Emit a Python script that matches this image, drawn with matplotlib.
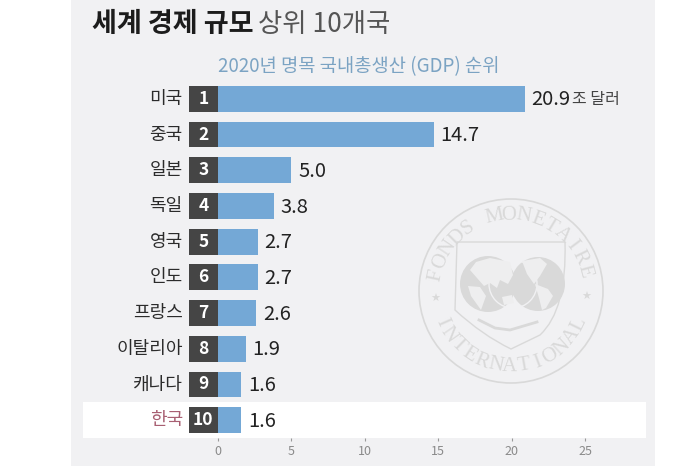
import numpy as np
import matplotlib
matplotlib.use("Agg")
import matplotlib.pyplot as plt
from matplotlib.patches import Rectangle, Circle, Polygon, PathPatch
from matplotlib.path import Path

plt.rcParams['font.family'] = ['Noto Sans CJK KR', 'DejaVu Sans']

countries = ["미국", "중국", "일본", "독일", "영국", "인도", "프랑스", "이탈리아", "캐나다", "한국"]
ranks = [1, 2, 3, 4, 5, 6, 7, 8, 9, 10]
gdp = [20.9, 14.7, 5.0, 3.8, 2.7, 2.7, 2.6, 1.9, 1.6, 1.6]
x_ticks = [0, 5, 10, 15, 20, 25]

W, H = 700, 466
BG = "#f1f1f3"
BAR = "#74a8d6"
BOX = "#454545"
SEAL = "#d9d9d9"
LAND = "#eeeeef"

fig = plt.figure(figsize=(7, 4.66), dpi=100, facecolor="white")

# background layer in pixel coords: panel, white row, IMF seal
bg = fig.add_axes([0, 0, 1, 1], zorder=0)
bg.set_xlim(0, W)
bg.set_ylim(H, 0)
bg.axis("off")
bg.add_patch(Rectangle((71, 0), 584, H, color=BG, lw=0))
bg.add_patch(Rectangle((83, 402), 563, 36, color="white", lw=0))

cx, cy, r = 511, 291, 92
bg.add_patch(Circle((cx, cy), r, fc="none", ec=SEAL, lw=1.2))
shield = Path([(457, 242), (565, 242), (567, 310), (540, 335), (511, 349),
               (482, 335), (455, 310), (457, 242)],
              [Path.MOVETO, Path.LINETO, Path.CURVE3, Path.CURVE3, Path.LINETO,
               Path.CURVE3, Path.CURVE3, Path.CLOSEPOLY])
bg.add_patch(PathPatch(shield, fc="none", ec=SEAL, lw=1))
bg.add_patch(Circle((488, 284), 28, fc=SEAL, ec="none"))
bg.add_patch(Circle((538, 284), 27, fc=SEAL, ec="none"))
bg.add_patch(Circle((513, 284), 24, fc="none", ec=BG, lw=1))
# rough continents
bg.add_patch(Polygon([(470, 270), (476, 262), (490, 258), (510, 262), (513, 275), (508, 284),
                      (500, 280), (497, 288), (490, 283), (484, 286)], fc=LAND, ec="none"))
bg.add_patch(Polygon([(468, 286), (480, 287), (486, 296), (481, 310), (476, 303), (471, 296)],
                     fc=LAND, ec="none"))
bg.add_patch(Polygon([(502, 297), (512, 295), (514, 303), (504, 305)], fc=LAND, ec="none"))
bg.add_patch(Polygon([(522, 261), (540, 258), (547, 264), (540, 276), (534, 284), (527, 274)],
                     fc=LAND, ec="none"))
bg.add_patch(Polygon([(535, 284), (548, 289), (553, 296), (546, 308), (542, 310), (539, 298)],
                     fc=LAND, ec="none"))
bg.plot([479, 495, 510, 537], [320, 328, 330, 322], color=SEAL, lw=2)


def arc_text(s, a0, a1, flip=False):
    for ch, a in zip(s, np.linspace(a0, a1, len(s))):
        t = np.deg2rad(a)
        rot = a + 90 if flip else a - 90
        bg.text(cx + 76 * np.cos(t), cy - 76 * np.sin(t), ch, rotation=rot,
                ha="center", va="center", rotation_mode="anchor",
                family="Liberation Serif", size=15, color=SEAL)


arc_text("FONDS MONETAIRE", 168, 15)
arc_text("INTERNATIONAL", 204, 334, flip=True)
bg.text(435, 299, "★", color=SEAL, size=8, ha="center", va="center", family="DejaVu Sans")
bg.text(586, 297, "★", color=SEAL, size=8, ha="center", va="center", family="DejaVu Sans")

# main chart
ax = fig.add_axes([218 / W, 1 - 438 / H, (585 - 218) / W, (438 - 81) / H], zorder=1)
ax.patch.set_alpha(0)
ax.set_xlim(0, 25)
ax.set_ylim(9.5, -0.5)
rows = list(range(len(countries)))
BOX_W = 2.0

ax.barh(rows, gdp, height=0.72, color=BAR, clip_on=False)
ax.barh(rows, [BOX_W] * len(rows), left=-BOX_W, height=0.72, color=BOX, clip_on=False)

for y, name, rank, v in zip(rows, countries, ranks, gdp):
    ax.text(-BOX_W - 0.4, y, name, ha="right", va="center", size=13,
            color="#a85f72" if name == "한국" else "#2b2b2b")
    ax.text(-BOX_W / 2, y, str(rank), ha="center", va="center", size=12.5,
            color="white", weight="bold")
    lab = ax.text(v + 0.45, y + 0.03, f"{v:.1f}", ha="left", va="center", size=14.5, color="#222222")
    if y == 0:
        ax.annotate("조 달러", xy=(1, 0.5), xycoords=lab, xytext=(1, 0), textcoords="offset points",
                    ha="left", va="center", size=11.5, color="#444444")

for s in ax.spines.values():
    s.set_visible(False)
ax.set_yticks([])
ax.set_xticks(x_ticks)
ax.tick_params(axis="x", length=2, width=0.8, color="#999999", labelcolor="#8a8a8a",
               labelsize=9, pad=3)

fig.text(92 / W, 1 - 24 / H, "세계 경제 규모", size=19.5, weight="bold", color="#1c1c1c", va="center")
fig.text(258 / W, 1 - 24 / H, "상위 10개국", size=19, color="#555555", va="center", weight="light")
fig.text(218 / W, 1 - 67 / H, "2020년 명목 국내총생산 (GDP) 순위", size=13.5, color="#7ba3c3", va="center")

fig.savefig("out.png", dpi=100)
